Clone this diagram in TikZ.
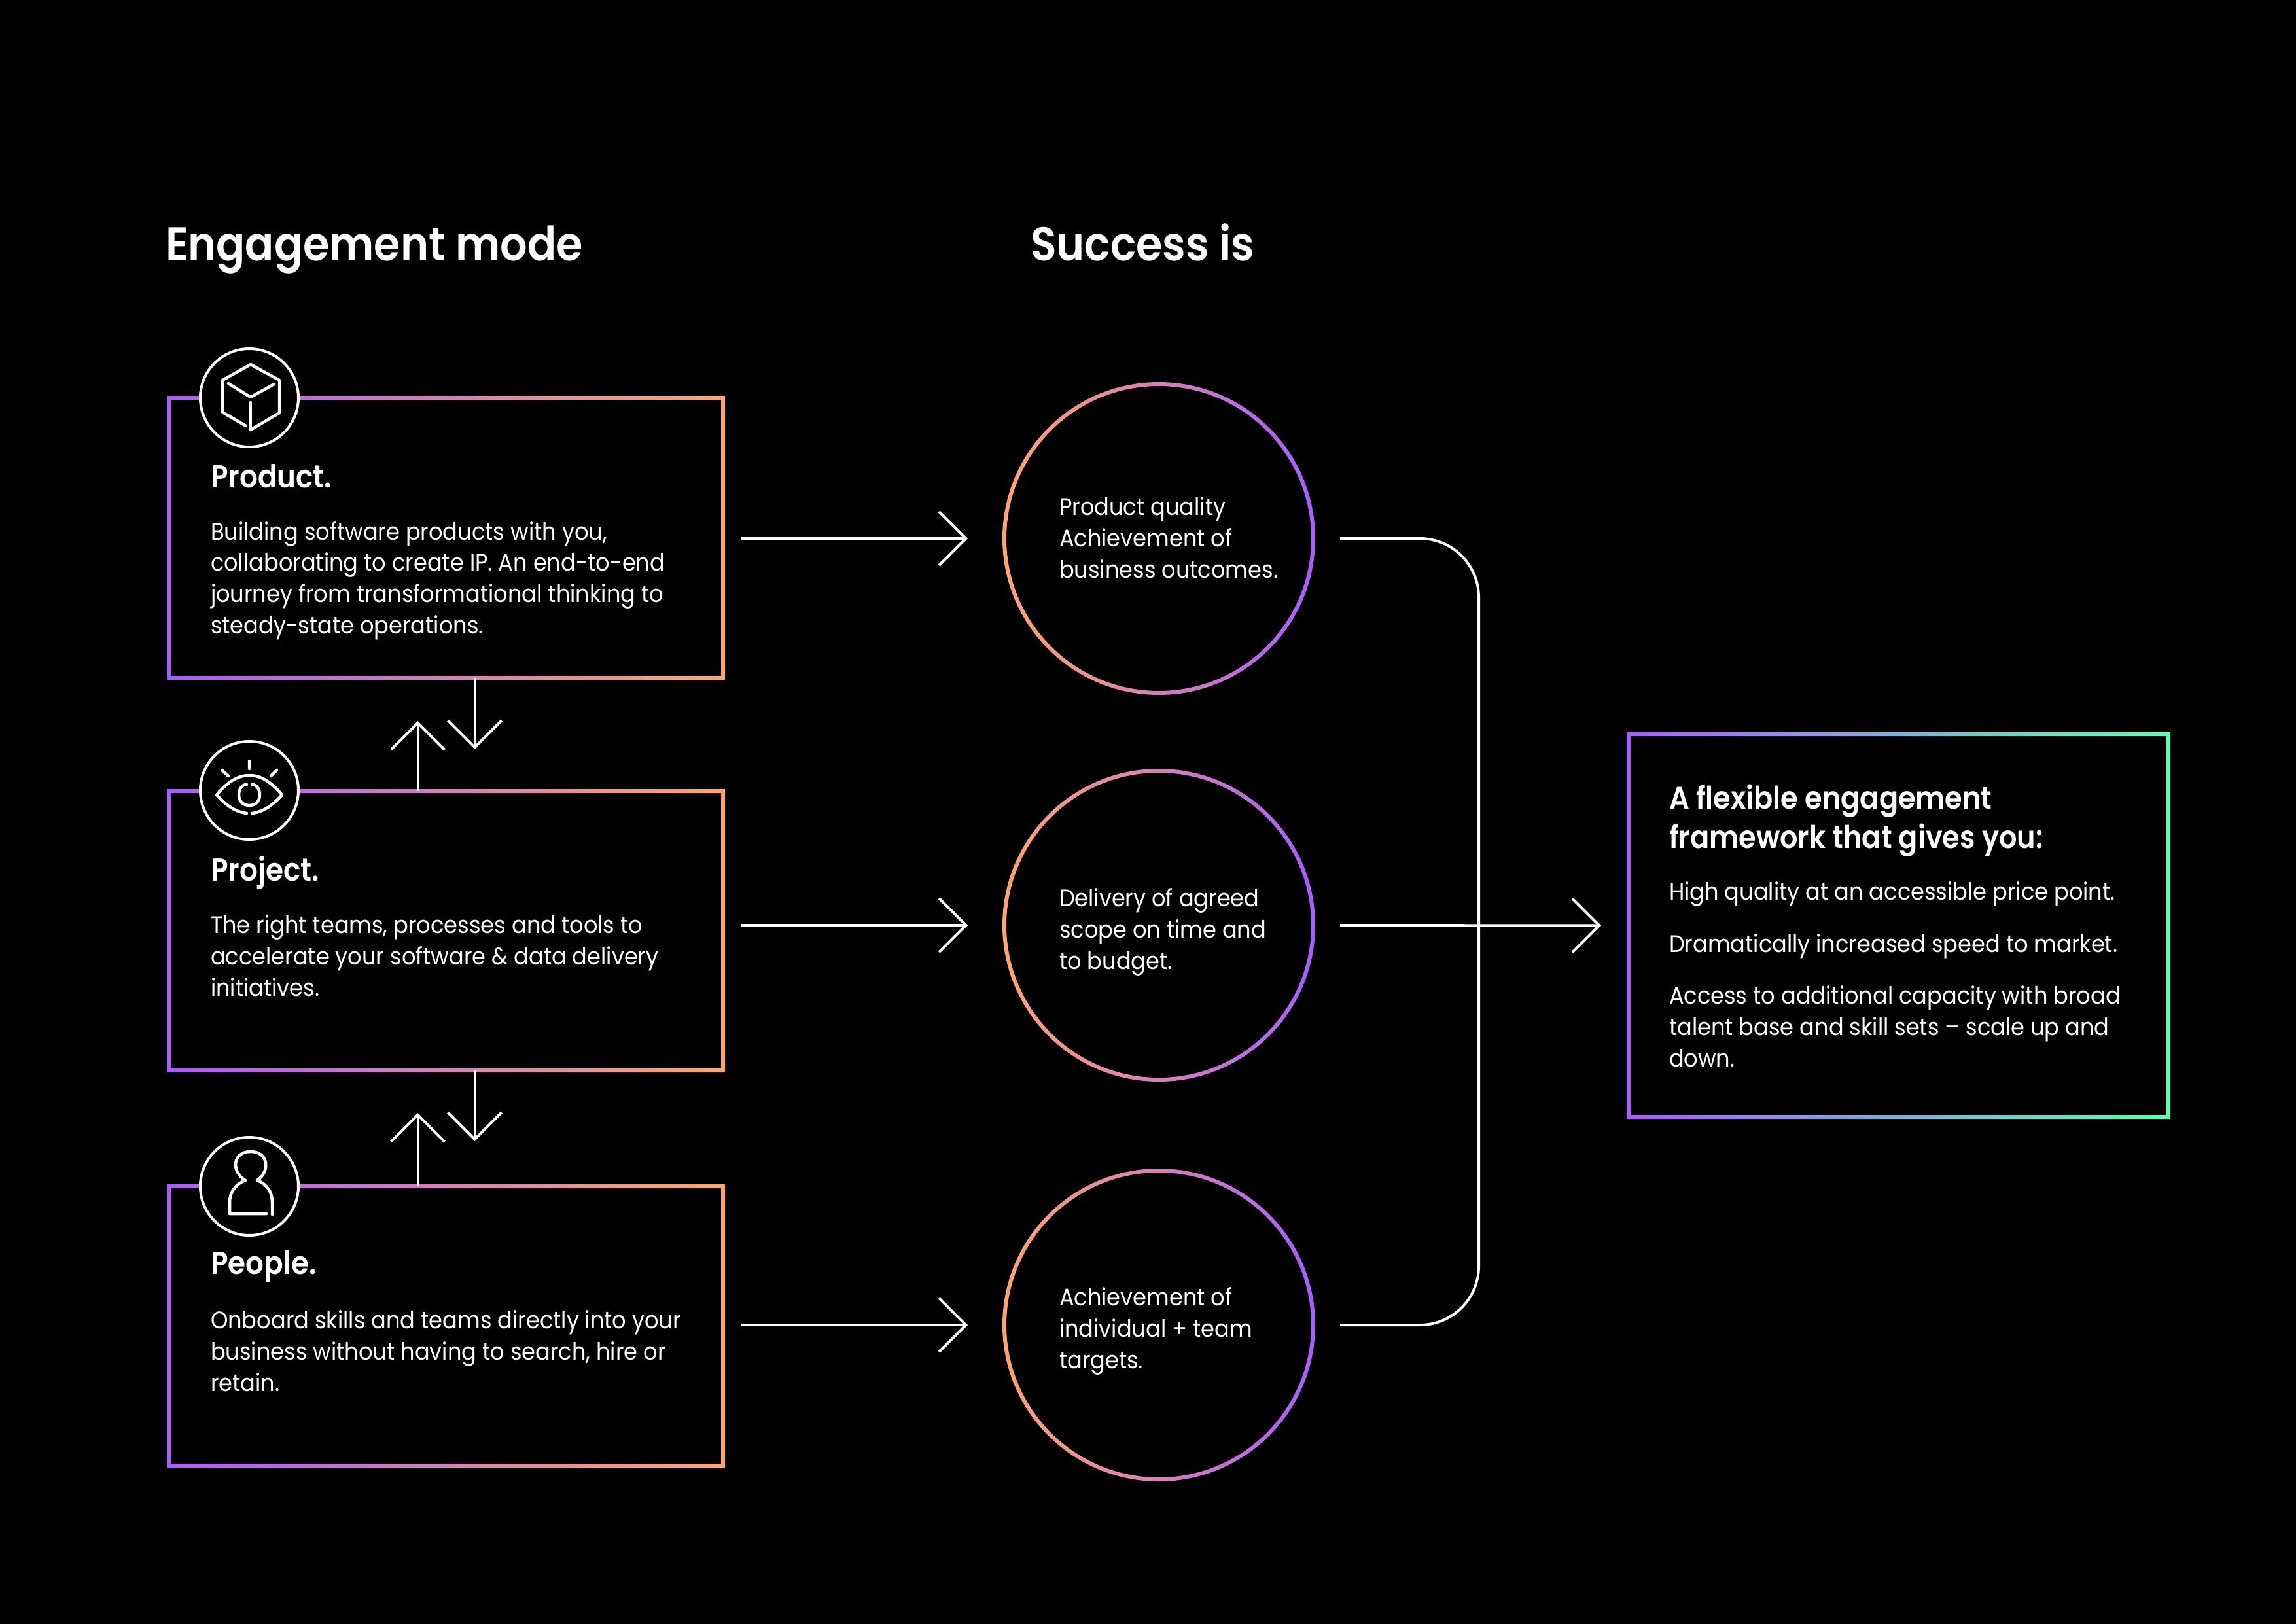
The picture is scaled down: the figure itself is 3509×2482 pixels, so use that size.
\documentclass[tikz,border=0pt]{standalone}
\usepackage{fontspec}
\setmainfont{Poppins}[FakeStretch=0.92]
\newfontfamily\semifam{Poppins SemiBold}[FakeStretch=0.9]
\usetikzlibrary{arrows.meta,calc}
\definecolor{vio}{HTML}{A95CFF}
\definecolor{ora}{HTML}{FFA56B}
\definecolor{grn}{HTML}{5CFFB0}
\tikzset{
  x=0.01cm,y=-0.01cm,
  txt/.style={white,inner sep=0,outer sep=0,anchor=base west,align=left},
  bodytxt/.style={txt,font=\fontsize{10.4}{13.55}\selectfont},
  subhead/.style={txt,font=\fontsize{13.8}{17}\selectfont\semifam},
  bighead/.style={txt,font=\fontsize{20.6}{25}\selectfont\semifam},
  rhead/.style={txt,font=\fontsize{13.6}{16.9}\selectfont\semifam},
  wire/.style={white,line width=0.04cm},
  tipped/.style={wire,-{Straight Barb[length=0.41cm,width=0.82cm]}},
  ico/.style={white,line width=0.045cm,line cap=round,line join=round},
}
\begin{document}
\begin{tikzpicture}
\useasboundingbox[fill=black] (0,0) rectangle (3509,2482);

% boxes
\foreach \n/\ya/\yb in {product/608/1036,project/1209/1636,people/1813/2240}{
  \node[draw=none,inner sep=0,outer sep=0,minimum width=0.01cm*847,minimum height={0.01cm*(\yb-\ya)}] (\n) at (681.5,{(\ya+\yb)/2}) {};
  \shade[left color=vio,right color=ora,even odd rule]
    ($(\n.north west)+(-3,-3)$) rectangle ($(\n.south east)+(3,3)$)
    ($(\n.north west)+(3,3)$) rectangle ($(\n.south east)+(-3,-3)$);
}
\node[inner sep=0,outer sep=0,minimum width=0.01cm*825,minimum height=0.01cm*585] (result) at (2901.5,1414.5) {};
\shade[left color=vio,right color=grn,even odd rule]
    ($(result.north west)+(-3,-3)$) rectangle ($(result.south east)+(3,3)$)
    ($(result.north west)+(3,3)$) rectangle ($(result.south east)+(-3,-3)$);

% circles
\foreach \n/\y in {qa/823,qb/1414,qc/2025}{
  \node[circle,inner sep=0,outer sep=0,minimum size=0.01cm*472] (\n) at (1771,\y) {};
  \shade[left color=ora,right color=vio,even odd rule]
    (\n.center) circle[radius=0.01cm*239] (\n.center) circle[radius=0.01cm*233];
}

% vertical arrows
\draw[tipped] ([xshift=0.01cm*-43]project.north) -- ++(0,-107);
\draw[tipped] ([xshift=0.01cm*44]product.south) -- ++(0,109);
\draw[tipped] ([xshift=0.01cm*-43]people.north) -- ++(0,-112);
\draw[tipped] ([xshift=0.01cm*44]project.south) -- ++(0,108);

% horizontal
\foreach \a/\b in {product/qa,project/qb,people/qc}
  \draw[tipped] (\a.east |- \b.west) ++(27,0) -- ($(\b.west)+(-56,0)$);

% bus
\draw[wire,rounded corners=0.01cm*90] ($(qa.east)+(41,0)$) -- (2260,823) -- (2260,2025) -- ($(qc.east)+(41,0)$);
\draw[tipped] ($(qb.east)+(41,0)$) -- ($(result.west)+(-42,0)$);

% icons
\foreach \n/\y in {icA/608,icB/1208,icC/1813}{
  \node[circle,draw=white,fill=black,line width=0.04cm,inner sep=0,minimum size=0.01cm*150] (\n) at (381,\y) {};
}
% cube
\begin{scope}[shift={(icA.center)},ico]
 \draw (-41,-27) -- (2,-51) -- (46,-27) -- (46,23) -- (2,49) (-41,-27) -- (-41,22) -- (-5,43);
 \draw (-32,-22) -- (2,-1) -- (38,-21);
 \draw (2,7) -- (2,49);
\end{scope}
% eye
\begin{scope}[shift={(icB.center)},ico]
 \draw (-4,35) .. controls (-22,33) and (-36,22) .. (-50,7) .. controls (-36,-10) and (-20,-23) .. (0,-23) .. controls (20,-23) and (36,-10) .. (50,7) .. controls (36,22) and (22,33) .. (4,35);
 \draw (-4,-9) .. controls (-12,-9) and (-16,-1) .. (-16,7) .. controls (-16,17) and (-9,23) .. (0,23) .. controls (9,23) and (16,17) .. (16,7) .. controls (16,-1) and (12,-9) .. (4,-9);
 \draw (0,-45) -- (0,-33) (-42,-31) -- (-32,-22) (42,-31) -- (33,-22);
\end{scope}
% person
\begin{scope}[shift={(icC.center)},ico]
 \draw (-6,-9) .. controls (-28,-22) and (-26,-53) .. (2,-53) .. controls (30,-53) and (32,-22) .. (12,-9);
 \draw (-6,-9) .. controls (-22,-3) and (-30,10) .. (-30,24) -- (-30,42) -- (26,42);
 \draw (12,-9) .. controls (28,-3) and (35,10) .. (35,24) -- (35,43);
\end{scope}

% text
\node[bighead] (hA) at (253,399) {Engagement mode};
\node[bighead] (hB) at (1575,399) {Success is};

\node[subhead] (tA) at (322,745) {Product.};
\node[subhead] (tB) at (322,1346) {Project.};
\node[subhead] (tC) at (322,1947) {People.};

\node[bodytxt] (bA) at (322,968) {Building software products with you,\\collaborating to create IP. An end-to-end\\journey from transformational thinking to\\steady-state operations.};
\node[bodytxt] (bB) at (322,1522) {The right teams, processes and tools to\\accelerate your software \& data delivery\\initiatives.};
\node[bodytxt] (bC) at (322,2126) {Onboard skills and teams directly into your\\business without having to search, hire or\\retain.};

\node[bodytxt] (cA) at (1619,883) {Product quality\\Achievement of\\business outcomes.};
\node[bodytxt] (cB) at (1619,1481) {Delivery of agreed\\scope on time and\\to budget.};
\node[bodytxt] (cC) at (1619,2091) {Achievement of\\individual + team\\targets.};

\node[rhead] (rH) at (2551,1296) {A flexible engagement\\framework that gives you:};
\node[bodytxt] (r1) at (2551,1375) {High quality at an accessible price point.};
\node[bodytxt] (r2) at (2551,1455) {Dramatically increased speed to market.};
\node[bodytxt] (r3) at (2551,1630) {Access to additional capacity with broad\\talent base and skill sets – scale up and\\down.};
\end{tikzpicture}
\end{document}
